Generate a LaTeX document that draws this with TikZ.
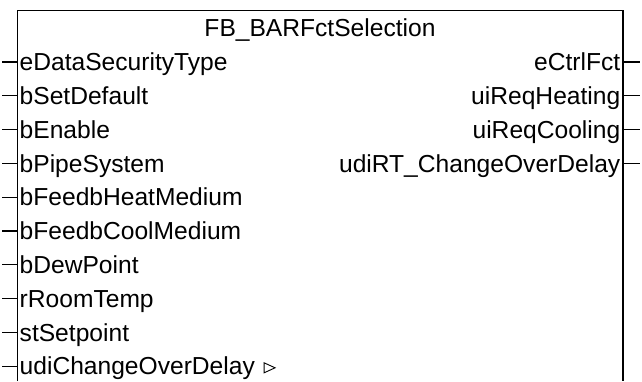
\documentclass[tikz,border=0pt]{standalone}
\usepackage{fontspec}
\setmainfont{Liberation Sans}
\begin{document}
\begin{tikzpicture}[x=1pt,y=-1pt,
  fbline/.style={line width=1.1pt,black},
  inlabel/.style={anchor=base west,inner sep=0pt,font=\fontsize{24.6}{28}\selectfont},
  outlabel/.style={anchor=base east,inner sep=0pt,font=\fontsize{24.6}{28}\selectfont},
  titlelabel/.style={anchor=base,inner sep=0pt,font=\fontsize{24.6}{28}\selectfont}]
\useasboundingbox (0,0) rectangle (642,381);
% box (open at the bottom, cut off by the picture's edge)
\coordinate (bl) at (17.5,381);
\coordinate (tl) at (17.5,10.5);
\coordinate (tr) at (623,10.5);
\coordinate (br) at (623,381);
\draw[fbline] (bl) -- (tl) -- (tr) -- (br);
\node[titlelabel] (title) at (320,36) {FB\_BARFctSelection};
% inputs
\foreach \i/\t in {0/eDataSecurityType,1/bSetDefault,2/bEnable,3/bPipeSystem,
  4/bFeedbHeatMedium,5/bFeedbCoolMedium,6/bDewPoint,7/rRoomTemp,8/stSetpoint,
  9/udiChangeOverDelay}{
  \pgfmathsetmacro{\yy}{62+33.8*\i}
  \coordinate (in\i) at (2,\yy);
  \coordinate (ip\i) at (17.5,\yy);
  \draw[fbline] (in\i) -- (ip\i);
  \node[inlabel] (inl\i) at (19.5,\yy+8.6) {\t};
}
% outputs
\foreach \i/\t in {0/eCtrlFct,1/uiReqHeating,2/uiReqCooling,3/udiRT\_ChangeOverDelay}{
  \pgfmathsetmacro{\yy}{62+33.8*\i}
  \coordinate (op\i) at (623,\yy);
  \coordinate (on\i) at (640,\yy);
  \draw[fbline] (op\i) -- (on\i);
  \node[outlabel] (outl\i) at (620.5,\yy+8.6) {\t};
}
% retain/extended marker
\draw[line width=0.9pt] ([xshift=9pt,yshift=12pt]inl9.base east) -- ++(11,5) -- ++(-11,5) -- cycle;
\end{tikzpicture}
\end{document}
